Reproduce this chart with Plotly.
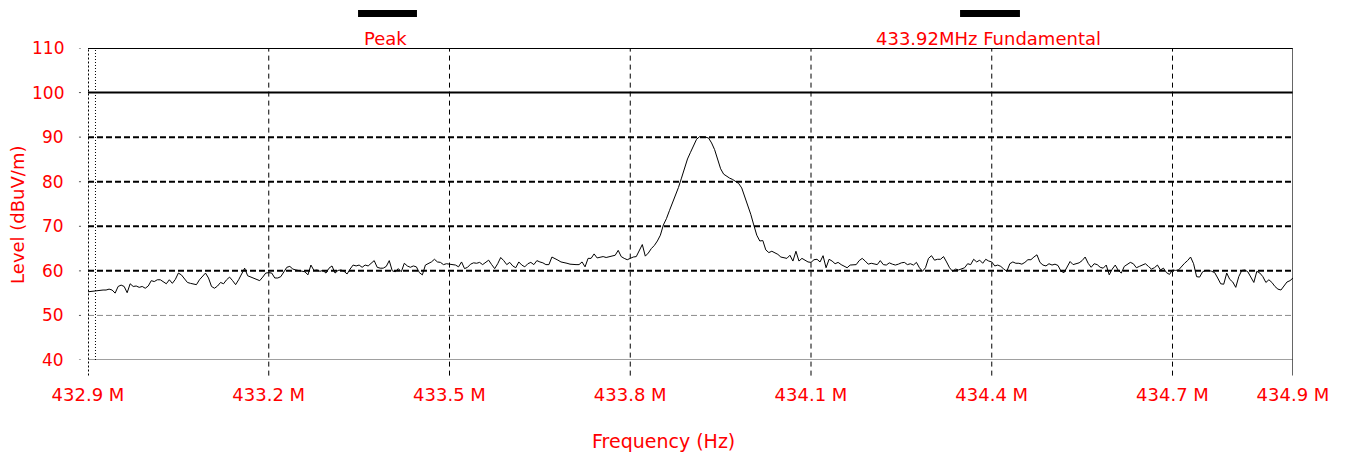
import numpy as np
import plotly.graph_objects as go

# Sweep settings (MHz)
f_start_mhz = 432.9
f_stop_mhz = 434.9
n_points = 401

# Peak detector levels in dBuV/m, one list per 0.5 MHz span
level_432_9_to_433_4 = [
    55.3, 55.4, 55.4, 55.6, 55.6, 55.7, 55.7, 55.9, 55.7, 55.0,
    56.5, 56.8, 56.5, 55.1, 57.1, 56.5, 56.6, 56.3, 56.5, 56.1,
    56.6, 57.8, 57.6, 58.0, 58.0, 57.5, 57.1, 58.0, 57.2, 58.1,
    59.5, 59.1, 58.1, 57.4, 57.2, 57.0, 56.9, 58.0, 58.7, 59.5,
    58.4, 56.5, 56.1, 56.6, 57.4, 57.1, 58.0, 58.6, 57.8, 56.9,
    58.0, 59.5, 60.6, 58.9, 58.6, 58.4, 58.0, 57.8, 58.6, 59.5,
    59.6, 59.5, 58.4, 58.4, 58.7, 59.9, 60.8, 61.0, 60.4, 60.2,
    60.1, 59.9, 59.8, 59.1, 61.3, 60.1, 60.2, 59.9, 60.1, 59.5,
    60.6, 61.1, 59.5, 60.1, 60.2, 59.9, 59.3, 60.4, 61.3, 61.1,
    61.3, 60.8, 61.3, 61.1, 61.6, 62.3, 60.8, 60.6, 60.6, 61.0,
    62.3,
]
level_433_4_to_433_9 = [
    60.0, 59.8, 60.5, 59.8, 61.7, 61.1, 60.8, 61.1, 60.9, 59.6,
    59.1, 61.3, 61.7, 62.0, 62.6, 62.0, 61.9, 61.4, 61.6, 61.5,
    61.4, 61.3, 60.9, 62.0, 60.5, 60.8, 61.5, 61.8, 61.7, 61.9,
    61.4, 62.0, 62.4, 61.4, 60.5, 61.6, 63.0, 62.3, 61.4, 61.9,
    61.1, 60.7, 62.0, 61.3, 60.9, 61.6, 61.9, 61.4, 62.3, 62.0,
    61.8, 61.4, 61.4, 63.1, 62.8, 62.4, 62.0, 61.9, 61.7, 61.5,
    61.4, 61.4, 61.4, 62.0, 60.9, 62.8, 62.8, 63.8, 62.9, 63.1,
    63.2, 63.0, 63.2, 63.3, 63.5, 64.6, 63.2, 62.8, 62.5, 62.8,
    63.1, 63.2, 64.7, 65.9, 63.3, 64.0, 65.0, 65.7, 66.7, 68.0,
    70.3, 71.7, 73.5, 75.1, 77.1, 78.7, 80.8, 82.9, 85.1, 86.6,
]
level_433_9_to_434_4 = [
    88.0, 89.5, 90.1, 90.1, 90.0, 89.8, 88.7, 87.2, 85.3, 82.9,
    81.7, 81.2, 80.8, 80.5, 80.1, 79.6, 78.6, 76.7, 74.8, 72.7,
    70.3, 68.0, 66.7, 66.8, 64.7, 64.1, 64.4, 64.1, 63.7, 63.1,
    62.9, 62.8, 63.5, 62.2, 64.4, 62.2, 62.8, 62.4, 62.0, 61.9,
    62.5, 62.6, 62.0, 63.4, 60.7, 62.6, 62.2, 61.6, 61.9, 61.4,
    61.0, 60.7, 61.3, 61.3, 61.4, 62.3, 62.8, 62.2, 61.5, 61.7,
    61.6, 61.4, 62.3, 61.4, 61.3, 61.8, 61.5, 61.3, 61.5, 61.8,
    61.9, 61.4, 61.6, 61.3, 61.9, 60.7, 59.9, 60.7, 62.8, 63.4,
    62.4, 62.6, 62.6, 63.2, 62.0, 60.7, 59.9, 60.4, 60.2, 60.4,
    60.7, 61.6, 61.4, 62.6, 62.0, 62.4, 61.7, 62.6, 62.2, 62.0,
]
level_434_4_to_434_9 = [
    61.1, 61.3, 61.0, 60.4, 59.9, 61.6, 62.0, 61.7, 61.7, 61.5,
    61.9, 62.5, 62.5, 63.1, 63.6, 61.9, 61.3, 61.1, 61.6, 61.3,
    61.5, 61.2, 59.9, 59.6, 60.8, 62.1, 61.4, 61.6, 61.8, 62.3,
    63.1, 61.7, 60.8, 61.6, 61.4, 60.8, 60.6, 61.3, 59.1, 60.4,
    61.3, 60.1, 59.5, 61.0, 61.4, 61.9, 61.6, 60.7, 61.0, 61.3,
    61.6, 61.0, 60.4, 60.7, 61.3, 60.2, 60.6, 59.6, 59.2, 60.2,
    60.1, 60.2, 61.0, 61.7, 62.3, 63.1, 61.6, 58.7, 58.6, 59.8,
    60.1, 60.1, 59.9, 59.6, 58.4, 57.1, 57.0, 59.5, 58.1, 57.5,
    56.3, 58.7, 60.1, 60.2, 59.8, 58.7, 57.4, 59.9, 59.5, 58.7,
    57.4, 58.0, 57.4, 56.5, 55.9, 55.7, 56.6, 57.5, 57.8, 58.4,
]

# Axis ticks
x_tick_vals = [432.9, 433.2, 433.5, 433.8, 434.1, 434.4, 434.7, 434.9]
x_tick_text = ["432.9 M", "433.2 M", "433.5 M", "433.8 M",
               "434.1 M", "434.4 M", "434.7 M", "434.9 M"]
y_tick_vals = [40, 50, 60, 70, 80, 90, 100, 110]

freq_mhz = np.linspace(f_start_mhz, f_stop_mhz, n_points)
level = (level_432_9_to_433_4 + level_433_4_to_433_9
         + level_433_9_to_434_4 + level_434_4_to_434_9)

RED = "#ff0000"
FONT = "DejaVu Sans"
TXT = 18

fig = go.Figure()
fig.add_trace(go.Scatter(
    x=freq_mhz, y=level, mode="lines",
    line=dict(color="black", width=1),
    name="Peak", showlegend=False,
))

shapes = []
annotations = []
# Horizontal reference lines with their level labels
for yv in y_tick_vals:
    if yv in (100, 110):
        st = dict(color="black", width=2)
    elif yv == 40:
        st = dict(color="#808080", width=1.5)
    elif yv == 50:
        st = dict(color="#8c8c8c", width=1, dash="6px,3px")
    else:
        st = dict(color="black", width=2, dash="6px,3px")
    shapes.append(dict(type="line", xref="x domain", yref="y",
                       x0=0, x1=1, y0=yv, y1=yv, line=st, layer="below"))
    # small dot tick left of the axis
    shapes.append(dict(type="line", xref="x domain", yref="y",
                       x0=-0.0075, x1=-0.0058, y0=yv, y1=yv,
                       line=dict(color="#555555", width=1)))
    annotations.append(dict(
        text=str(yv), xref="x domain", yref="y", x=-0.0183, y=yv,
        xanchor="right", yanchor="middle", showarrow=False,
        font=dict(family=FONT, size=17, color=RED)))

# Vertical dashed grid, continuing a little below the plot as ticks
for xv in x_tick_vals:
    if xv == x_tick_vals[0]:
        st = dict(color="black", width=2, dash="2px,2px")
    elif xv == x_tick_vals[-1]:
        st = dict(color="#333333", width=1.5)
    else:
        st = dict(color="black", width=1, dash="5px,4px")
    shapes.append(dict(type="line", xref="x", yref="y domain",
                       x0=xv, x1=xv, y0=-0.05, y1=1, line=st, layer="below"))

# Fine dotted marker line next to the left edge
shapes.append(dict(type="line", xref="x domain", yref="y domain",
                   x0=0.0062, x1=0.0062, y0=0, y1=1,
                   line=dict(color="black", width=1, dash="1px,2px"),
                   layer="below"))

# Legend bars
shapes.append(dict(type="rect", xref="paper", yref="paper",
                   x0=0.2241, x1=0.2730, y0=1.0994, y1=1.1218,
                   fillcolor="black", line=dict(width=0)))
shapes.append(dict(type="rect", xref="paper", yref="paper",
                   x0=0.7237, x1=0.7734, y0=1.0994, y1=1.1218,
                   fillcolor="black", line=dict(width=0)))

annotations += [
    dict(text="Peak", xref="paper", yref="paper", x=0.2473, y=1.032,
         xanchor="center", yanchor="middle", showarrow=False,
         font=dict(family=FONT, size=TXT, color=RED)),
    dict(text="433.92MHz Fundamental", xref="paper", yref="paper",
         x=0.7469, y=1.032, xanchor="center", yanchor="middle",
         showarrow=False, font=dict(family=FONT, size=TXT, color=RED)),
    dict(text="Frequency (Hz)", xref="paper", yref="paper", x=0.478,
         y=-0.2596, xanchor="center", yanchor="middle", showarrow=False,
         font=dict(family=FONT, size=TXT + 1, color=RED)),
    dict(text="Level (dBuV/m)", xref="paper", yref="paper", x=-0.0581,
         y=0.465, xanchor="center", yanchor="middle", textangle=-90,
         showarrow=False, font=dict(family=FONT, size=TXT, color=RED)),
]

fig.update_layout(
    width=1350, height=460, autosize=False,
    margin=dict(l=88, r=57, t=48, b=100),
    paper_bgcolor="white", plot_bgcolor="white",
    shapes=shapes, annotations=annotations,
    showlegend=False,
    xaxis=dict(
        range=[f_start_mhz, f_stop_mhz], tickmode="array",
        tickvals=x_tick_vals, ticktext=x_tick_text,
        showgrid=False, zeroline=False, showline=False,
        ticks="outside", ticklen=18, tickcolor="rgba(0,0,0,0)",
        tickfont=dict(family=FONT, size=TXT, color=RED),
    ),
    yaxis=dict(
        range=[40, 110], tickmode="array", tickvals=y_tick_vals,
        showgrid=False, zeroline=False, showline=False,
        showticklabels=False, ticks="",
    ),
)

fig.write_html("out.html")
